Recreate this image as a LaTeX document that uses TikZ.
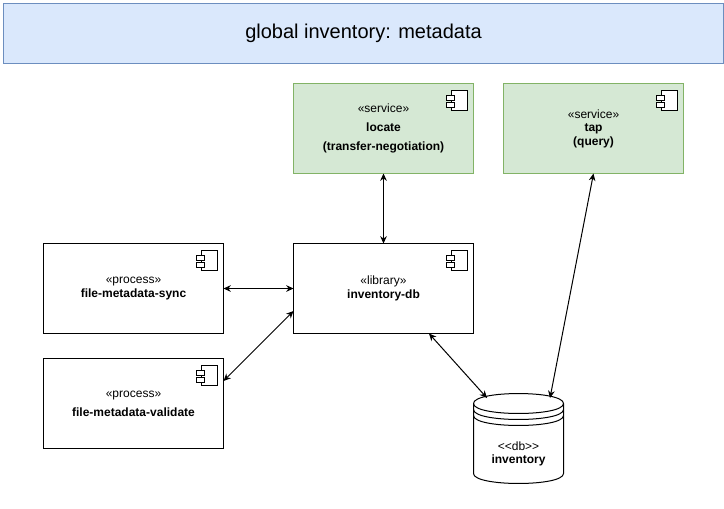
\documentclass[tikz,border=0pt]{standalone}
\usepackage{fontspec}
\setmainfont{Liberation Sans}
\usetikzlibrary{arrows.meta}
\definecolor{titlefill}{HTML}{DAE8FC}
\definecolor{titleline}{HTML}{6C8EBF}
\definecolor{svcfill}{HTML}{D5E8D4}
\definecolor{svcline}{HTML}{82B366}
\tikzset{
  comp/.style={draw,line width=0.75pt,minimum width=135pt,minimum height=67.5pt,
    inner sep=0pt,outer sep=0pt,align=center,font=\fontsize{9}{10.2}\selectfont},
  svc/.style={comp,draw=svcline,fill=svcfill},
  link/.style={line width=0.75pt,{Stealth[length=5.5pt,width=5pt]}-{Stealth[length=5.5pt,width=5pt]}},
  compicon/.pic={
    \draw[line width=0.75pt,fill=white] (-22.5,6.5) rectangle (-6.5,27);
    \draw[line width=0.75pt,fill=white] (-27.5,11.5) rectangle (-19,16.5);
    \draw[line width=0.75pt,fill=white] (-27.5,18.5) rectangle (-19,23.5);
  }
}
\begin{document}
\begin{tikzpicture}[x=0.75pt,y=-0.75pt]
  \useasboundingbox (0,0) rectangle (724,508);
  \node[draw=titleline,fill=titlefill,line width=0.75pt,minimum width=540pt,minimum height=45pt,
    inner sep=0pt,font=\fontsize{15}{18}\selectfont] (title) at (363.5,33.5) {global inventory: metadata};

  \node[svc] (locate) at (383.5,128.5) {«service»\\[4.2pt]\textbf{locate}\\[4.2pt]\textbf{(transfer-negotiation)}};
  \node[svc] (tap) at (593.5,128.5) {«service»\\\textbf{tap}\\\textbf{(query)}};
  \node[comp] (lib) at (383.5,288.5) {«library»\\\textbf{inventory-db}};
  \node[comp] (sync) at (133.5,288.5) {«process»\\\textbf{file-metadata-sync}};
  \node[comp] (validate) at (133.5,403.5) {«process»\\[4.2pt]\textbf{file-metadata-validate}};

  \pic at (locate.north east) {compicon};
  \pic at (tap.north east) {compicon};
  \pic at (lib.north east) {compicon};
  \pic at (sync.north east) {compicon};
  \pic at (validate.north east) {compicon};

  % cylinder
  \draw[line width=0.75pt,fill=white] (473.5,403.5)
    .. controls (473.5,390.2) and (563.5,390.2) .. (563.5,403.5) -- (563.5,473.5)
    .. controls (563.5,486.8) and (473.5,486.8) .. (473.5,473.5) -- cycle;
  \foreach \yy in {403.5,409.5,415.5}
    \draw[line width=0.75pt] (473.5,\yy) .. controls (473.5,\yy+13.3) and (563.5,\yy+13.3) .. (563.5,\yy);
  \node[inner sep=0pt,align=center,font=\fontsize{9}{10.2}\selectfont] (db) at (518.5,454) {<{}<db>{}>\\\textbf{inventory}};

  \coordinate (libW) at (293.5,311);
  \coordinate (validateE) at (223.5,381);
  \coordinate (libS) at (429,333.5);
  \coordinate (dbL) at (487,398);
  \coordinate (dbR) at (550,398);

  \draw[link] (locate.south) -- (lib.north);
  \draw[link] (sync.east) -- (lib.west);
  \draw[link] (validateE) -- (libW);
  \draw[link] (libS) -- (dbL);
  \draw[link] (tap.south) -- (dbR);
\end{tikzpicture}
\end{document}
